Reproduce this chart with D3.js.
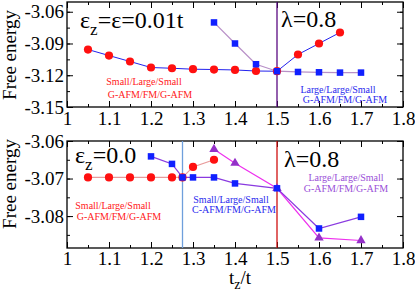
<!DOCTYPE html>
<html><head><meta charset="utf-8">
<script src="https://cdn.jsdelivr.net/npm/d3@7"></script>
<style>
body{margin:0;background:#fff}
svg{display:block}
text{font-family:"Liberation Serif","Times New Roman",serif}
</style>
</head><body>
<svg id="c" width="415" height="291"></svg>
<script>
// ---- data ----
const xTicks = [1, 1.1, 1.2, 1.3, 1.4, 1.5, 1.6, 1.7, 1.8];
const topYTicks = [-3.15, -3.12, -3.09, -3.06];
const botYTicks = [-3.08, -3.07, -3.06];

const topCircX = [1.05, 1.1, 1.15, 1.2, 1.25, 1.3, 1.35, 1.4, 1.45, 1.5, 1.55, 1.6, 1.65];
const topCircY = [-3.0957, -3.1014, -3.1070, -3.1127, -3.1134, -3.1143, -3.1146, -3.1150, -3.1160, -3.1162, -3.1004, -3.0900, -3.0796];
const topSqX = [1.35, 1.4, 1.45, 1.5, 1.55, 1.6, 1.65, 1.7];
const topSqY = [-3.0701, -3.0900, -3.1096, -3.1162, -3.1169, -3.1172, -3.1175, -3.1175];

const botCircX = [1.05, 1.1, 1.15, 1.2, 1.25, 1.275, 1.3, 1.35];
const botCircY = [-3.0697, -3.0697, -3.0697, -3.0697, -3.0697, -3.0697, -3.0669, -3.0650];
const botSqX = [1.2, 1.25, 1.275, 1.3, 1.35, 1.4, 1.5, 1.6, 1.7];
const botSqY = [-3.0641, -3.0661, -3.0697, -3.0697, -3.0697, -3.0713, -3.0726, -3.0833, -3.0802];
const botTriX = [1.35, 1.4, 1.5, 1.6, 1.7];
const botTriY = [-3.0622, -3.0659, -3.0726, -3.0858, -3.0865];

const topVLines = [{x: 1.5, color: "#5a0a82"}];
const botVLines = [{x: 1.275, color: "#6f9fdc"}, {x: 1.5, color: "#d01010"}];

// ---- layout ----
const svg = d3.select("#c");
const L = 67, R = 403;
const x = d3.scaleLinear().domain([1, 1.8]).range([L, R]);

function zip(xs, ys) { return xs.map((v, i) => ({x: v, y: ys[i]})); }

function panel(top, bottom, yDomain, yTicks, yMinorStep, labelY, xPad) {
  const y = d3.scaleLinear().domain(yDomain).range([bottom, top]);
  const g = svg.append("g");
  const minorX = d3.range(1, 1.8001, 0.05).map(v => +v.toFixed(3));
  const yMinor = [];
  for (let v = Math.ceil(yDomain[0] / yMinorStep - 1e-6) * yMinorStep; v <= yDomain[1] + 1e-9; v += yMinorStep) yMinor.push(+v.toFixed(4));

  const fmtX = d => String(+d.toFixed(1));
  const fmtY = d => d.toFixed(2);

  function styleAxis(sel) {
    sel.select(".domain").remove();
    sel.selectAll("line").attr("stroke", "#000").attr("stroke-width", 1);
    sel.selectAll("text").attr("font-family", "Liberation Serif, serif").attr("font-size", 19).attr("fill", "#000");
  }
  // bottom
  g.append("g").attr("transform", `translate(0,${bottom})`)
    .call(d3.axisBottom(x).tickValues(minorX).tickSize(-3).tickFormat("")).call(styleAxis);
  g.append("g").attr("transform", `translate(0,${bottom})`)
    .call(d3.axisBottom(x).tickValues(xTicks).tickSize(-6).tickPadding(xPad).tickFormat(fmtX)).call(styleAxis);
  // top
  g.append("g").attr("transform", `translate(0,${top})`)
    .call(d3.axisTop(x).tickValues(minorX).tickSize(-3).tickFormat("")).call(styleAxis);
  g.append("g").attr("transform", `translate(0,${top})`)
    .call(d3.axisTop(x).tickValues(xTicks).tickSize(-6).tickFormat("")).call(styleAxis);
  // left
  g.append("g").attr("transform", `translate(${L},0)`)
    .call(d3.axisLeft(y).tickValues(yMinor).tickSize(-3).tickFormat("")).call(styleAxis);
  g.append("g").attr("transform", `translate(${L},0)`)
    .call(d3.axisLeft(y).tickValues(yTicks).tickSize(-6).tickPadding(3).tickFormat(fmtY)).call(styleAxis);
  // right
  g.append("g").attr("transform", `translate(${R},0)`)
    .call(d3.axisRight(y).tickValues(yMinor).tickSize(-3).tickFormat("")).call(styleAxis);
  g.append("g").attr("transform", `translate(${R},0)`)
    .call(d3.axisRight(y).tickValues(yTicks).tickSize(-6).tickFormat("")).call(styleAxis);

  // frame
  g.append("rect").attr("x", L).attr("y", top).attr("width", R - L).attr("height", bottom - top)
    .attr("fill", "none").attr("stroke", "#000").attr("stroke-width", 1.3);

  // y label
  g.append("text").attr("transform", `translate(16,${labelY}) rotate(-90)`)
    .attr("text-anchor", "middle").attr("font-size", 19).text("Free energy");

  return {g, y};
}

const line = (y) => d3.line().x(d => x(d.x)).y(d => y(d.y));

function circles(g, y, data, color) {
  g.append("g").selectAll("circle").data(data).join("circle")
    .attr("cx", d => x(d.x)).attr("cy", d => y(d.y)).attr("r", 4.1).attr("fill", color);
}
function squares(g, y, data, color) {
  const s = 6.5;
  g.append("g").selectAll("rect").data(data).join("rect")
    .attr("x", d => x(d.x) - s / 2).attr("y", d => y(d.y) - s / 2)
    .attr("width", s).attr("height", s).attr("fill", color);
}
function triangles(g, y, data, color) {
  const sym = d3.symbol().type(d3.symbolTriangle).size(38);
  g.append("g").selectAll("path").data(data).join("path")
    .attr("transform", d => `translate(${x(d.x)},${y(d.y)})`).attr("d", sym).attr("fill", color);
}
function vlines(g, y, lines, top, bottom) {
  g.append("g").selectAll("line").data(lines).join("line")
    .attr("x1", d => x(d.x)).attr("x2", d => x(d.x)).attr("y1", top).attr("y2", bottom)
    .attr("stroke", d => d.color).attr("stroke-width", 1.3);
}
function label(g, txt, cx, by, color, size) {
  g.append("text").attr("x", cx).attr("y", by).attr("text-anchor", "middle")
    .attr("font-size", size).attr("fill", color).text(txt);
}
function bigLabel(g, parts, xx, by) {
  const t = g.append("text").attr("x", xx).attr("y", by).attr("font-size", 24).attr("fill", "#000");
  parts.forEach(p => {
    const ts = t.append("tspan").text(p.t);
    if (p.sub) ts.attr("font-size", 17).attr("dy", 7);
    if (p.up) ts.attr("dy", -7);
  });
}

// ---- top panel ----
const T1 = 2, B1 = 107;
const P1 = panel(T1, B1, [-3.15, -3.0508], topYTicks, 0.015, 55, 5);
vlines(P1.g, P1.y, topVLines, T1, B1);
P1.g.append("path").datum(zip(topCircX, topCircY)).attr("d", line(P1.y))
  .attr("fill", "none").attr("stroke", "#2222ee").attr("stroke-width", 1);
P1.g.append("path").datum(zip(topSqX, topSqY)).attr("d", line(P1.y))
  .attr("fill", "none").attr("stroke", "#b890c8").attr("stroke-width", 1.2);
circles(P1.g, P1.y, zip(topCircX, topCircY), "#ff1010");
squares(P1.g, P1.y, zip(topSqX, topSqY), "#1020ff");
bigLabel(P1.g, [{t: "ε"}, {t: "z", sub: true}, {t: "=ε=0.01t", up: true}], 80, 28);
bigLabel(P1.g, [{t: "λ=0.8"}], 281, 27);
label(P1.g, "Small/Large/Small", 144, 85, "#ff2020", 10);
label(P1.g, "G-AFM/FM/G-AFM", 150, 98, "#ff2020", 10);
label(P1.g, "Large/Large/Small", 338, 93, "#2a2aee", 10);
label(P1.g, "G-AFM/FM/G-AFM", 345, 103, "#2a2aee", 10);

// ---- bottom panel ----
const T2 = 141, B2 = 248;
const P2 = panel(T2, B2, [-3.0885, -3.06], botYTicks, 0.005, 184, 3);
vlines(P2.g, P2.y, botVLines, T2, B2);
P2.g.append("path").datum(zip(botCircX, botCircY)).attr("d", line(P2.y))
  .attr("fill", "none").attr("stroke", "#e89a9a").attr("stroke-width", 1.2);
P2.g.append("path").datum(zip(botTriX, botTriY)).attr("d", line(P2.y))
  .attr("fill", "none").attr("stroke", "#ee30ee").attr("stroke-width", 1.2);
P2.g.append("path").datum(zip(botSqX, botSqY)).attr("d", line(P2.y))
  .attr("fill", "none").attr("stroke", "#8a3ae0").attr("stroke-width", 1.2);
circles(P2.g, P2.y, zip(botCircX, botCircY), "#ff1010");
triangles(P2.g, P2.y, zip(botTriX, botTriY), "#9430c8");
squares(P2.g, P2.y, zip(botSqX, botSqY), "#1020ff");
bigLabel(P2.g, [{t: "ε"}, {t: "z", sub: true}, {t: "=0.0", up: true}], 75, 163);
bigLabel(P2.g, [{t: "λ=0.8"}], 284, 167);
label(P2.g, "Small/Large/Small", 113, 209, "#ff2020", 10);
label(P2.g, "G-AFM/FM/G-AFM", 119, 220, "#ff2020", 10);
label(P2.g, "Small/Large/Small", 231, 203, "#2a2aee", 10);
label(P2.g, "C-AFM/FM/G-AFM", 234, 213, "#2a2aee", 10);
label(P2.g, "Large/Large/Small", 346, 181, "#9a50d8", 10);
label(P2.g, "G-AFM/FM/G-AFM", 346, 192, "#9a50d8", 10);

// x axis title
const xt = svg.append("text").attr("x", 240).attr("y", 284).attr("text-anchor", "middle")
  .attr("font-size", 19);
xt.append("tspan").text("t");
xt.append("tspan").text("z").attr("font-size", 14).attr("dy", 5);
xt.append("tspan").text("/t").attr("dy", -5);
</script>
</body></html>
